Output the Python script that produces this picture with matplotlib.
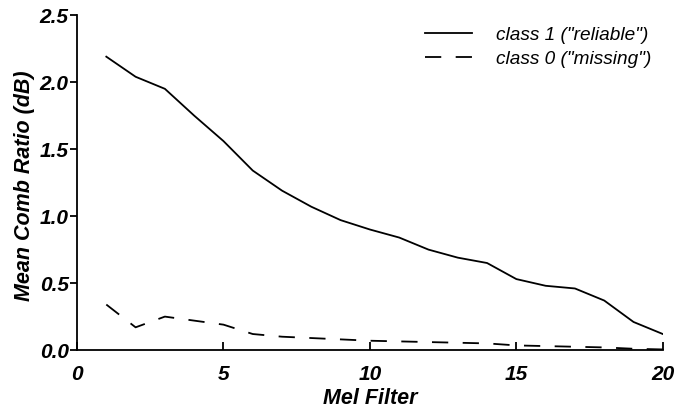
import matplotlib
matplotlib.use("Agg")
import matplotlib.pyplot as plt

mel_filter = list(range(1, 21))
class1_reliable = [2.19, 2.04, 1.95, 1.75, 1.56, 1.34, 1.19, 1.07, 0.97, 0.90,
                   0.84, 0.75, 0.69, 0.65, 0.53, 0.48, 0.46, 0.37, 0.21, 0.12]
class0_missing = [0.34, 0.17, 0.25, 0.22, 0.19, 0.12, 0.10, 0.09, 0.08, 0.07,
                  0.065, 0.06, 0.055, 0.05, 0.035, 0.03, 0.025, 0.02, 0.01, 0.005]
labels = ['class 1 ("reliable")', 'class 0 ("missing")']

plt.rcParams['font.family'] = ['Liberation Sans', 'DejaVu Sans']

fig = plt.figure(figsize=(6.78, 4.09), dpi=100)
ax = fig.add_axes([0.1136, 0.144, 0.864, 0.819])

ax.plot(mel_filter, class1_reliable, color='black', lw=1.3, label=labels[0])
ax.plot(mel_filter, class0_missing, color='black', lw=1.3, dashes=(9, 8), label=labels[1])

ax.set_xlim(0, 20)
ax.set_ylim(0, 2.5)
ax.set_xticks([0, 5, 10, 15, 20])
ax.set_yticks([0, 0.5, 1.0, 1.5, 2.0, 2.5])
ax.set_yticklabels(['0.0', '0.5', '1.0', '1.5', '2.0', '2.5'])

for s in ['top', 'right']:
    ax.spines[s].set_visible(False)
for s in ['left', 'bottom']:
    ax.spines[s].set_linewidth(1.3)

ax.tick_params(axis='x', direction='in', length=6, width=1.3, pad=11)
ax.tick_params(axis='y', direction='out', length=5, width=1.3, pad=1)
for lbl in ax.get_xticklabels() + ax.get_yticklabels():
    lbl.set_fontsize(15)
    lbl.set_fontweight('bold')
    lbl.set_fontstyle('italic')

ax.set_xlabel('Mel Filter', fontsize=15.5, fontweight='bold', fontstyle='italic')
ax.set_ylabel('Mean Comb Ratio (dB)', fontsize=15.5, fontweight='bold', fontstyle='italic')
ax.xaxis.set_label_coords(0.5, -0.112)
ax.yaxis.set_label_coords(-0.072, 0.49)

leg = ax.legend(loc='upper right', frameon=False, prop={'style': 'italic', 'size': 13.7},
                handlelength=2.5, handletextpad=1.25, bbox_to_anchor=(1.0, 1.0),
                labelspacing=0.35, borderaxespad=0.2)

fig.savefig('out.png', dpi=100)
